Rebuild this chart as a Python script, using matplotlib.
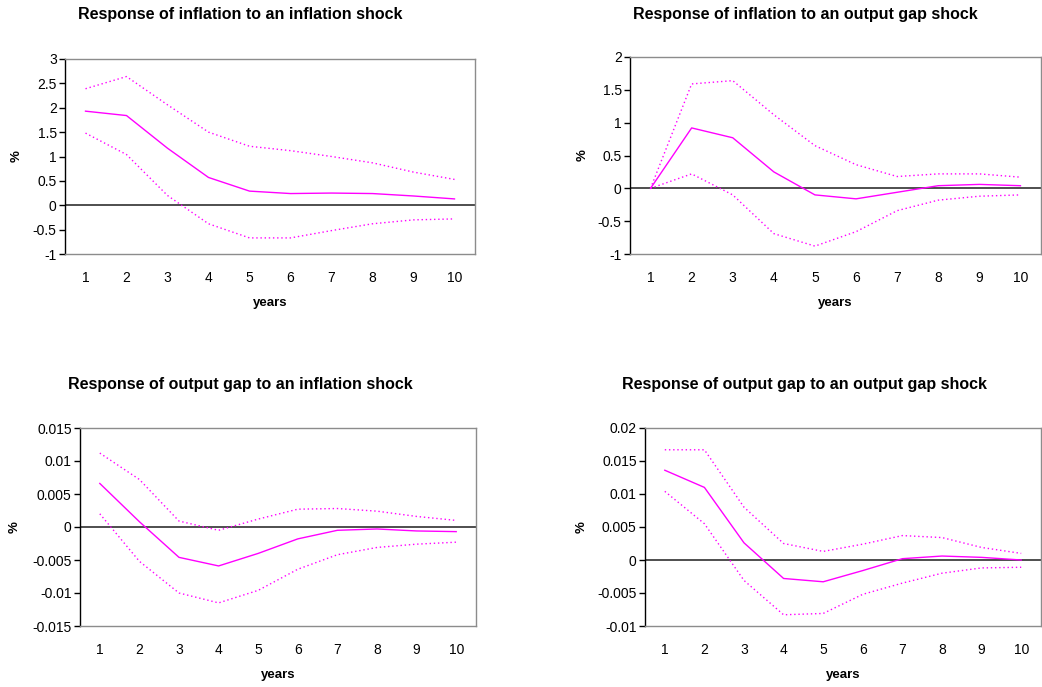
import matplotlib.pyplot as plt
from matplotlib.ticker import FixedLocator

plt.rcParams['font.family'] = ['Liberation Sans', 'DejaVu Sans']

years = list(range(1, 11))

# inflation response to an inflation shock
inf_inf = [1.93, 1.84, 1.17, 0.57, 0.29, 0.24, 0.25, 0.24, 0.19, 0.13]
inf_inf_hi = [2.39, 2.64, 2.06, 1.50, 1.21, 1.12, 1.00, 0.87, 0.68, 0.53]
inf_inf_lo = [1.48, 1.04, 0.20, -0.38, -0.67, -0.67, -0.52, -0.38, -0.30, -0.28]

# inflation response to an output gap shock
inf_gap = [0.0, 0.92, 0.77, 0.25, -0.10, -0.16, -0.06, 0.04, 0.06, 0.04]
inf_gap_hi = [0.0, 1.59, 1.64, 1.12, 0.65, 0.36, 0.18, 0.22, 0.22, 0.17]
inf_gap_lo = [0.0, 0.22, -0.10, -0.69, -0.88, -0.66, -0.34, -0.18, -0.12, -0.10]

# output gap response to an inflation shock
gap_inf = [0.0066, 0.0008, -0.0046, -0.0059, -0.0040, -0.0018, -0.0005, -0.0003, -0.0006, -0.0007]
gap_inf_hi = [0.0112, 0.0072, 0.0009, -0.0005, 0.0012, 0.0027, 0.0028, 0.0024, 0.0016, 0.0010]
gap_inf_lo = [0.0020, -0.0052, -0.0100, -0.0115, -0.0096, -0.0064, -0.0042, -0.0031, -0.0026, -0.0023]

# output gap response to an output gap shock
gap_gap = [0.0136, 0.0110, 0.0026, -0.0028, -0.0033, -0.0016, 0.0002, 0.0006, 0.0004, 0.0]
gap_gap_hi = [0.0167, 0.0167, 0.0080, 0.0025, 0.0013, 0.0024, 0.0037, 0.0034, 0.0019, 0.0010]
gap_gap_lo = [0.0104, 0.0055, -0.0031, -0.0083, -0.0081, -0.0052, -0.0035, -0.0020, -0.0012, -0.0011]

yticks_inf_inf = [-1, -0.5, 0, 0.5, 1, 1.5, 2, 2.5, 3]
yticks_inf_gap = [-1, -0.5, 0, 0.5, 1, 1.5, 2]
yticks_gap_inf = [-0.015, -0.01, -0.005, 0, 0.005, 0.01, 0.015]
yticks_gap_gap = [-0.01, -0.005, 0, 0.005, 0.01, 0.015, 0.02]

W, H = 1042, 687
fig = plt.figure(figsize=(W / 100, H / 100), dpi=100)

MAG = '#ff00ff'


def panel(box, title, title_xy, mid, hi, lo, yticks, ylab_x):
    # box is (left, top, right, bottom) in pixels from the top-left corner
    x0, y0, x1, y1 = box
    ax = fig.add_axes([x0 / W, 1 - y1 / H, (x1 - x0) / W, (y1 - y0) / H])
    ax.plot(years, hi, color=MAG, lw=1.0, ls=(0, (1, 2)))
    ax.plot(years, lo, color=MAG, lw=1.0, ls=(0, (1, 2)))
    ax.plot(years, mid, color=MAG, lw=1.0)
    ax.axhline(0, color='#404040', lw=1.3, zorder=1)
    ax.set_xlim(0.5, 10.5)
    ax.set_ylim(yticks[0], yticks[-1])
    ax.yaxis.set_major_locator(FixedLocator(yticks))
    ax.set_yticklabels([f'{v:g}' for v in yticks], fontsize=10)
    ax.set_xticks(years)
    ax.set_xticklabels([str(y) for y in years], fontsize=10)
    ax.tick_params(axis='x', length=0, pad=12)
    ax.tick_params(axis='y', direction='out', length=4, width=1, pad=2)
    for side in ('top', 'right', 'bottom'):
        ax.spines[side].set_color('#8c8c8c')
        ax.spines[side].set_linewidth(1.0)
    ax.spines['left'].set_color('black')
    ax.spines['left'].set_linewidth(1.0)
    ax.set_xlabel('years', fontsize=9.5, fontweight='bold', labelpad=9)
    fig.text(ylab_x / W, 1 - ((y0 + y1) / 2) / H, '%', rotation=90,
             ha='center', va='center', fontsize=9.5, fontweight='bold')
    fig.text(title_xy[0] / W, 1 - title_xy[1] / H, title, ha='center',
             va='center', fontsize=11.5, fontweight='bold')
    return ax


panel((65, 59, 475, 254), 'Response of inflation to an inflation shock', (240, 15),
      inf_inf, inf_inf_hi, inf_inf_lo, yticks_inf_inf, 17)
panel((630, 57, 1041, 254), 'Response of inflation to an output gap shock', (805, 15),
      inf_gap, inf_gap_hi, inf_gap_lo, yticks_inf_gap, 583)
panel((80, 428, 476, 626), 'Response of output gap to an inflation shock', (240, 385),
      gap_inf, gap_inf_hi, gap_inf_lo, yticks_gap_inf, 15)
panel((645, 428, 1041, 626), 'Response of output gap to an output gap shock', (804, 385),
      gap_gap, gap_gap_hi, gap_gap_lo, yticks_gap_gap, 582)

fig.savefig('out.png', dpi=100)
